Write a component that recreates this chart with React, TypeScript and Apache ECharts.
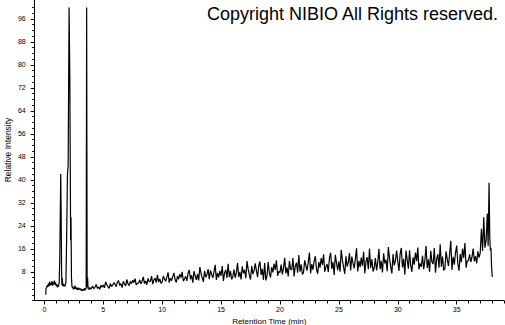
import React, { useEffect, useRef } from "react";
import * as echarts from "echarts";

// Early part of the chromatogram (time in min, relative intensity)
const earlyTimes = [
  0.12, 0.14, 0.2, 0.25, 0.3, 0.35, 0.4, 0.45, 0.5, 0.55, 0.6, 0.65, 0.7, 0.75, 0.8, 0.85, 0.9, 0.95,
  1.0, 1.05, 1.1, 1.15, 1.2, 1.26, 1.31, 1.39, 1.43, 1.46, 1.49, 1.52, 1.56, 1.6, 1.65, 1.7, 1.76, 1.83,
  1.89, 1.96, 2.02, 2.1, 2.16, 2.2, 2.23, 2.26, 2.3, 2.34, 2.38, 2.42, 2.46, 2.5, 2.55, 2.6, 2.65, 2.7,
  2.75, 2.8, 2.85, 2.9, 2.95, 3.0, 3.05, 3.1, 3.15, 3.2, 3.25, 3.3, 3.35, 3.4, 3.45, 3.5, 3.55, 3.59,
  3.63, 3.67, 3.71, 3.75, 3.8, 3.85, 3.9, 3.95,
];
const earlyValues = [
  0, 2.2, 2.6, 3.3, 2.7, 4.0, 3.0, 4.6, 3.3, 4.1, 3.4, 4.8, 3.2, 4.2, 3.6, 4.9, 3.5, 4.3,
  3.1, 3.7, 2.6, 3.3, 2.8, 4.3, 13, 42, 26, 9, 3.4, 5.8, 3.0, 3.9, 2.9, 3.5, 3.0, 4.4,
  19, 42, 45, 100, 76, 44, 19, 27, 6, 3.1, 2.4, 2.8, 1.9, 2.5, 2.0, 3.2, 2.1, 2.6,
  1.8, 2.4, 1.7, 2.5, 1.9, 2.2, 1.6, 2.1, 1.5, 1.9, 1.4, 1.8, 1.5, 2.3, 1.6, 1.9, 2.4, 100,
  2.6, 6, 2.2, 1.9, 2.6, 1.8, 2.4, 2.0,
];

// Main part: from 4.0 min, one value every 0.1 min (each row = 1 min)
const mainStart = 4.0;
const mainStep = 0.1;
const mainValues = [
  2.3, 3.0, 2.1, 2.7, 3.6, 2.2, 2.7, 1.9, 3.3, 2.6,
  3.4, 2.4, 4.5, 3.5, 2.8, 2.2, 3.9, 2.9, 3.3, 4.2,
  3.7, 2.8, 4.4, 4.9, 3.2, 3.9, 2.5, 4.7, 3.8, 3.1,
  5.3, 3.8, 3.2, 4.6, 3.9, 5.1, 4.2, 5.6, 3.4, 4.0,
  4.0, 5.2, 3.8, 4.7, 6.2, 3.9, 4.8, 3.5, 5.7, 4.5,
  4.7, 6.5, 3.7, 5.2, 5.8, 4.2, 6.9, 4.4, 5.5, 4.0,
  4.4, 6.5, 5.5, 4.7, 6.2, 7.8, 4.2, 5.8, 4.9, 6.3,
  7.6, 5.2, 4.3, 6.5, 5.4, 7.2, 6.0, 8.0, 4.7, 5.6,
  6.4, 4.8, 7.6, 8.6, 5.4, 6.8, 4.2, 8.2, 6.6, 5.2,
  7.2, 5.0, 9.6, 7.4, 5.9, 4.5, 8.3, 6.1, 7.0, 8.9,
  5.4, 8.5, 7.1, 5.9, 8.0, 10.4, 5.2, 7.6, 6.1, 8.3,
  6.6, 10.0, 4.8, 7.7, 8.7, 5.9, 10.8, 6.1, 8.2, 5.3,
  6.4, 8.8, 5.9, 7.7, 11.0, 6.1, 8.0, 5.3, 9.9, 7.5,
  8.6, 5.8, 11.7, 8.9, 6.9, 5.3, 10.0, 7.2, 8.3, 10.9,
  8.4, 6.1, 10.1, 11.6, 6.9, 9.0, 5.2, 11.0, 5.0, 6.6,
  11.4, 7.5, 6.0, 9.6, 7.8, 10.8, 8.7, 12.0, 6.6, 8.1,
  7.7, 10.5, 7.1, 9.2, 12.9, 7.4, 9.5, 6.4, 11.7, 8.9,
  8.7, 12.8, 6.4, 10.0, 11.2, 7.7, 13.8, 8.0, 10.6, 7.1,
  7.8, 12.0, 10.1, 8.4, 11.4, 14.7, 7.4, 10.7, 8.7, 11.7,
  13.4, 9.0, 7.3, 11.4, 9.4, 12.8, 10.4, 14.1, 8.0, 9.7,
  10.7, 7.9, 12.8, 14.6, 9.0, 11.4, 6.9, 13.9, 11.1, 8.6,
  11.6, 8.0, 15.6, 12.0, 9.5, 7.3, 13.4, 9.8, 11.3, 14.5,
  8.5, 13.3, 11.0, 9.2, 12.5, 16.2, 8.1, 11.8, 9.6, 12.9,
  10.0, 15.0, 7.4, 11.5, 13.1, 8.9, 16.1, 9.3, 12.3, 8.1,
  9.3, 12.8, 8.5, 11.3, 16.0, 8.9, 11.7, 7.8, 14.4, 10.9,
  12.2, 8.2, 16.6, 12.6, 9.8, 7.4, 14.2, 10.2, 11.8, 15.4,
  11.6, 8.3, 14.2, 16.3, 9.5, 12.5, 7.0, 15.4, 12.1, 9.1,
  15.5, 10.1, 8.0, 13.0, 10.5, 14.7, 11.7, 16.4, 8.8, 10.9,
  9.7, 13.6, 8.9, 11.9, 17.0, 9.3, 12.3, 8.0, 15.3, 11.4,
  10.7, 16.3, 7.7, 12.4, 14.1, 9.4, 17.6, 9.8, 13.3, 8.5,
  9.1, 15.1, 12.3, 10.0, 14.2, 18.8, 8.6, 13.2, 10.5, 14.6,
  17.1, 10.8, 8.4, 14.2, 11.3, 16.1, 12.8, 18.0, 9.4, 11.8,
  11.9, 14.1, 11.4, 13.1, 16.1, 11.6, 13.4, 10.9, 15.1, 12.9,
];

// Final part (time in min, relative intensity)
const tailTimes = [37.0, 37.1, 37.2, 37.3, 37.4, 37.5, 37.6, 37.67, 37.75, 37.81, 37.86, 37.91, 37.96, 38.02];
const tailValues = [14.6, 23.0, 15.2, 27.0, 16.4, 19.0, 28.3, 17.0, 39, 20, 15.5, 16.2, 10, 6.2];

const xTickLabels = [0, 5, 10, 15, 20, 25, 30, 35];
const yTickLabels = [8, 16, 24, 32, 40, 48, 56, 64, 72, 80, 88, 96];

const titleText = "Copyright NIBIO All Rights reserved.";
const xName = "Retention Time (min)";
const yName = "Relative Intensity";

export default function App() {
  const ref = useRef<HTMLDivElement>(null);

  useEffect(() => {
    if (!ref.current) return;
    const chart = echarts.init(ref.current, null, { renderer: "svg" });

    const data: [number, number][] = [];
    earlyTimes.forEach((t, i) => data.push([t, earlyValues[i]]));
    mainValues.forEach((v, i) => data.push([+(mainStart + i * mainStep).toFixed(2), v]));
    tailTimes.forEach((t, i) => data.push([t, tailValues[i]]));

    const xMin = -0.82, xMax = 39;
    const yMin = -2, yMax = 102.6;
    const xMinor: number[] = [];
    for (let i = 0; i <= 39; i++) xMinor.push(i);
    const yMinor: number[] = [];
    for (let v = -2; v <= 100; v += 2) yMinor.push(v);

    const font = "Liberation Sans";
    const black = "#000";

    chart.setOption({
      animation: false,
      backgroundColor: "#fff",
      textStyle: { fontFamily: font },
      title: {
        text: titleText,
        left: 207,
        top: 5,
        padding: 0,
        textStyle: { fontSize: 18, fontWeight: "normal", color: black, fontFamily: font },
      },
      graphic: [
        {
          type: "text",
          x: 8,
          y: 150,
          rotation: Math.PI / 2,
          style: {
            text: yName,
            fontSize: 8.5,
            fontFamily: font,
            fill: black,
            align: "center",
            verticalAlign: "middle",
          },
        },
      ],
      grid: {
        left: 34.7,
        right: 1.2,
        top: 0,
        bottom: 24.5,
        containLabel: false,
        outerBoundsMode: "none",
      },
      xAxis: [
        {
          type: "value",
          min: xMin,
          max: xMax,
          position: "bottom",
          name: xName,
          nameLocation: "middle",
          nameGap: 15,
          nameTextStyle: { fontSize: 8, color: black, fontFamily: font },
          axisLine: { show: true, onZero: false, lineStyle: { color: black, width: 1 } },
          axisTick: { show: true, customValues: xTickLabels, length: 4, lineStyle: { color: black } },
          axisLabel: { customValues: xTickLabels, fontSize: 7, color: black, margin: 5, fontFamily: font },
          splitLine: { show: false },
        },
        {
          type: "value",
          min: xMin,
          max: xMax,
          position: "bottom",
          axisLine: { show: false, onZero: false },
          axisTick: { show: true, customValues: xMinor, length: 3, lineStyle: { color: black } },
          axisLabel: { show: false },
          splitLine: { show: false },
        },
      ],
      yAxis: [
        {
          type: "value",
          min: yMin,
          max: yMax,
          position: "left",
          axisLine: { show: true, onZero: false, lineStyle: { color: black, width: 1 } },
          axisTick: { show: true, customValues: yTickLabels, length: 4, lineStyle: { color: black } },
          axisLabel: { customValues: yTickLabels, fontSize: 7, color: black, margin: 9, fontFamily: font },
          splitLine: { show: false },
        },
        {
          type: "value",
          min: yMin,
          max: yMax,
          position: "left",
          axisLine: { show: false, onZero: false },
          axisTick: { show: true, customValues: yMinor, length: 2.5, lineStyle: { color: black } },
          axisLabel: { show: false },
          splitLine: { show: false },
        },
      ],
      series: [
        {
          type: "line",
          xAxisIndex: 0,
          yAxisIndex: 0,
          data,
          showSymbol: false,
          symbol: "none",
          lineStyle: { color: black, width: 1.2 },
          clip: true,
        },
      ],
    });

    return () => chart.dispose();
  }, []);

  return (
    <div
      ref={ref}
      style={{ position: "absolute", left: 0, top: 0, width: 505, height: 325, background: "#fff" }}
    />
  );
}
